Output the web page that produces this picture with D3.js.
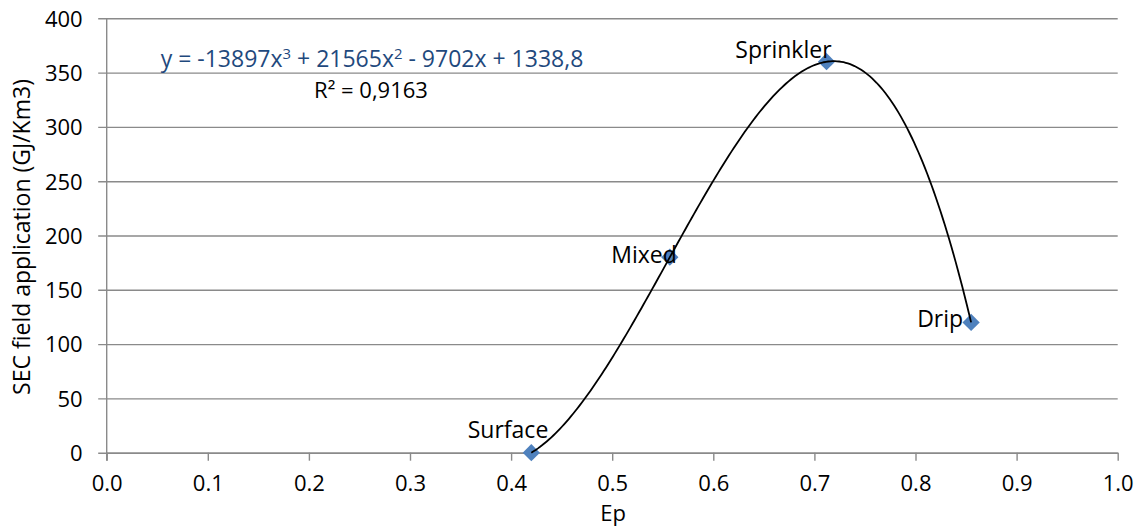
<!DOCTYPE html>
<html>
<head>
<meta charset="utf-8">
<script src="https://cdn.jsdelivr.net/npm/d3@7"></script>
<style>
  html, body { margin: 0; padding: 0; background: #ffffff; }
  svg { display: block; }
  text { font-family: "Open Sans", "Lato", "Liberation Sans", sans-serif; }
</style>
</head>
<body>
<svg id="chart" width="1139" height="530"></svg>
<script>
// ---- Data ----
const categories = ["Surface", "Mixed", "Sprinkler", "Drip"];
const epValues = [0.42, 0.557, 0.712, 0.855];
const secValues = [0, 180, 360, 120];
const xTickValues = [0.0, 0.1, 0.2, 0.3, 0.4, 0.5, 0.6, 0.7, 0.8, 0.9, 1.0];
const yTickValues = [0, 50, 100, 150, 200, 250, 300, 350, 400];
const equationParts = [["y = -13897x", ""], ["3", "sup"], [" + 21565x", ""], ["2", "sup"], [" - 9702x + 1338,8", ""]];
const rSquaredText = "R² = 0,9163";
const xTitle = "Ep";
const yTitle = "SEC field application (GJ/Km3)";

// ---- Layout / style (not data) ----
const W = 1139, H = 530;
const plot = { left: 106.7, right: 1117.7, top: 18.3, bottom: 452.7 };
const fontSize = 22;
const bigFont = 23;
const fontFamily = "'Open Sans', Lato, sans-serif";
const labelOffsets = [[17, -15], [7, 6], [5, -4], [-8, 5]]; // [dx to right edge, dy to baseline]
const gridColor = "#8a8a8a";
const markerColor = "#4F81BD";

const svg = d3.select("#chart");

const x = d3.scaleLinear().domain([0, 1]).range([plot.left, plot.right]);
const y = d3.scaleLinear().domain([0, 400]).range([plot.bottom, plot.top]);

// Horizontal gridlines (with left tick stub) via axisLeft
const yAxis = d3.axisLeft(y)
  .tickValues(yTickValues)
  .tickSize(-(plot.right - plot.left))
  .tickSizeOuter(0)
  .tickFormat(d3.format("d"));

const gy = svg.append("g")
  .attr("transform", `translate(${plot.left},0)`)
  .call(yAxis);
gy.select(".domain").remove();
gy.selectAll(".tick line")
  .attr("x1", -8.5)
  .attr("stroke", gridColor)
  .attr("stroke-width", 1.4);
gy.selectAll(".tick text")
  .attr("x", -24)
  .attr("dy", null)
  .attr("y", 7.8)
  .attr("fill", "#000")
  .style("font-size", fontSize + "px")
  .style("font-family", fontFamily);

// Y axis vertical line
svg.append("line")
  .attr("x1", plot.left).attr("x2", plot.left)
  .attr("y1", plot.top).attr("y2", plot.bottom + 8)
  .attr("stroke", gridColor).attr("stroke-width", 1.4);

// X axis
const xAxis = d3.axisBottom(x)
  .tickValues(xTickValues)
  .tickSize(8)
  .tickSizeOuter(0)
  .tickFormat(d3.format(".1f"));

const gx = svg.append("g")
  .attr("transform", `translate(0,${plot.bottom})`)
  .call(xAxis);
gx.select(".domain")
  .attr("stroke", gridColor)
  .attr("stroke-width", 1.4);
gx.selectAll(".tick line")
  .attr("stroke", gridColor)
  .attr("stroke-width", 1.4);
gx.selectAll(".tick text")
  .attr("y", 38.5)
  .attr("dy", null)
  .attr("fill", "#000")
  .style("font-size", fontSize + "px")
  .style("font-family", fontFamily);

// ---- Polynomial (cubic) trendline fitted to the data by least squares ----
function polyFit(xs, ys, order) {
  const n = order + 1;
  const A = Array.from({ length: n }, () => new Array(n + 1).fill(0));
  for (let r = 0; r < n; r++) {
    for (let c = 0; c < n; c++) {
      A[r][c] = d3.sum(xs, v => Math.pow(v, r + c));
    }
    A[r][n] = d3.sum(xs.map((v, i) => ys[i] * Math.pow(v, r)));
  }
  for (let i = 0; i < n; i++) {
    let maxR = i;
    for (let k = i + 1; k < n; k++) if (Math.abs(A[k][i]) > Math.abs(A[maxR][i])) maxR = k;
    [A[i], A[maxR]] = [A[maxR], A[i]];
    for (let k = i + 1; k < n; k++) {
      const f = A[k][i] / A[i][i];
      for (let j = i; j <= n; j++) A[k][j] -= f * A[i][j];
    }
  }
  const coef = new Array(n).fill(0);
  for (let i = n - 1; i >= 0; i--) {
    let s = A[i][n];
    for (let j = i + 1; j < n; j++) s -= A[i][j] * coef[j];
    coef[i] = s / A[i][i];
  }
  return coef;
}
const coef = polyFit(epValues, secValues, 3);
const poly = v => coef.reduce((acc, c, i) => acc + c * Math.pow(v, i), 0);
const [xMin, xMax] = d3.extent(epValues);
const curveX = d3.range(0, 201).map(i => xMin + (xMax - xMin) * i / 200);

// ---- Markers (diamonds) ----
const points = categories.map((c, i) => ({ name: c, ep: epValues[i], sec: secValues[i], off: labelOffsets[i] }));
svg.selectAll("path.marker")
  .data(points)
  .enter().append("path")
  .attr("class", "marker")
  .attr("d", d3.symbol().type(d3.symbolDiamond2).size(190))
  .attr("transform", d => `translate(${x(d.ep)},${y(d.sec)})`)
  .attr("fill", markerColor);

// Trendline drawn over the markers
svg.append("path")
  .datum(curveX)
  .attr("fill", "none")
  .attr("stroke", "#000")
  .attr("stroke-width", 1.8)
  .attr("d", d3.line().x(d => x(d)).y(d => y(poly(d))));

// Data labels
svg.selectAll("text.dlabel")
  .data(points)
  .enter().append("text")
  .attr("class", "dlabel")
  .attr("x", d => x(d.ep) + d.off[0])
  .attr("y", d => y(d.sec) + d.off[1])
  .attr("text-anchor", "end")
  .attr("fill", "#000")
  .style("font-size", bigFont + "px")
  .text(d => d.name);

// ---- Trendline equation ----
const eq = svg.append("text")
  .attr("x", 372)
  .attr("y", 67)
  .attr("text-anchor", "middle")
  .attr("fill", "#1F497D")
  .style("font-size", bigFont + "px");
equationParts.forEach(([t, kind], i) => {
  const ts = eq.append("tspan").text(t);
  if (kind === "sup") {
    ts.attr("dy", -8).style("font-size", (bigFont * 0.65) + "px");
  } else if (i > 0) {
    ts.attr("dy", 8);
  }
});

svg.append("text")
  .attr("x", 371)
  .attr("y", 97.5)
  .attr("text-anchor", "middle")
  .attr("fill", "#000")
  .style("font-size", fontSize + "px")
  .text(rSquaredText);

// ---- Axis titles ----
svg.append("text")
  .attr("x", 613)
  .attr("y", 521)
  .attr("text-anchor", "middle")
  .attr("fill", "#000")
  .style("font-size", fontSize + "px")
  .text(xTitle);

svg.append("text")
  .attr("transform", `translate(30,237) rotate(-90)`)
  .attr("text-anchor", "middle")
  .attr("fill", "#000")
  .style("font-size", bigFont + "px")
  .text(yTitle);
</script>
</body>
</html>
